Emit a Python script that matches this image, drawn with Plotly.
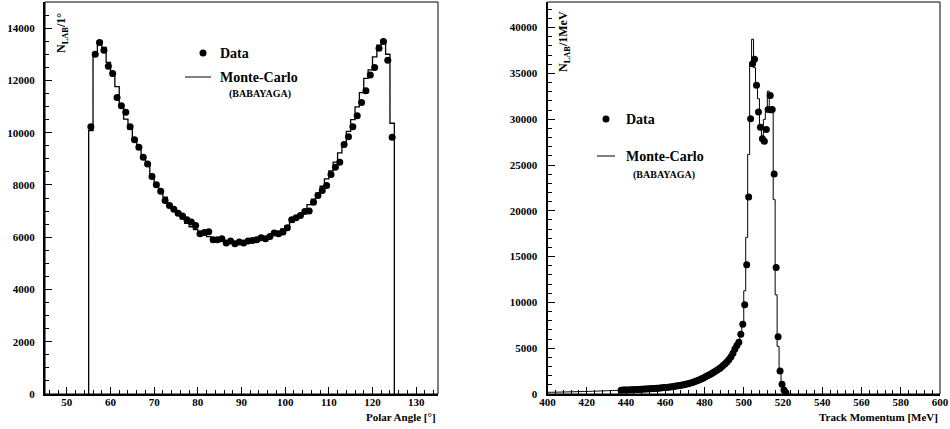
import plotly.graph_objects as go

# ---------------- Left panel: Polar angle ----------------
angle_data_x = [55.5 + i for i in range(70)]
angle_data_y = [10230, 13003, 13448, 13156, 12545, 12265, 11349, 11031, 10777, 10230,
                9733, 9440, 9059, 8805, 8321, 8003, 7761, 7405, 7214, 7074,
                6921, 6807, 6667, 6578, 6451, 6133, 6183, 6209, 5904, 5904,
                5942, 5776, 5853, 5751, 5815, 5776, 5853, 5878, 5904, 5980,
                5942, 6031, 6158, 6133, 6196, 6362, 6667, 6743, 6832, 6985,
                7000, 7341, 7596, 7786, 7978, 8397, 8677, 8868, 9543, 9848,
                10230, 10649, 11158, 11604, 12202, 12494, 13232, 13487, 12774, 9823]
angle_mc_edges = [55 + i for i in range(71)]
angle_mc_y = [10080, 13070, 13510, 13260, 12690, 12180, 11760, 10970, 10520, 10140,
              9780, 9420, 9080, 8760, 8400, 8090, 7800, 7530, 7280, 7060,
              6860, 6690, 6530, 6400, 6290, 6180, 6100, 6020, 5960, 5900,
              5860, 5820, 5800, 5780, 5770, 5780, 5800, 5830, 5870, 5920,
              5980, 6050, 6130, 6220, 6320, 6440, 6570, 6720, 6880, 7050,
              7250, 7460, 7690, 7950, 8230, 8540, 8870, 9230, 9620, 10050,
              10500, 10990, 11530, 12080, 12400, 12900, 13350, 13540, 13000, 10360]

# ---------------- Right panel: Track momentum ----------------
mom_data_x = [437.5 + i for i in range(85)]
mom_data_y = [420, 425, 430, 440, 445, 455, 465, 475, 490, 500,
              510, 520, 535, 550, 560, 575, 590, 605, 620, 640,
              660, 680, 700, 720, 745, 770, 800, 830, 860, 890,
              930, 970, 1010, 1060, 1110, 1170, 1230, 1300, 1380, 1470,
              1560, 1660, 1760, 1870, 1980, 2100, 2220, 2350, 2480, 2620,
              2770, 2930, 3100, 3300, 3520, 3780, 4080, 4450, 4900, 5300,
              5650, 6530, 7625, 9737, 14100, 21500, 30050, 36070, 36540, 33700,
              30780, 29130, 27860, 27600, 28880, 31070, 32600, 31070, 24030, 13820,
              6240, 2520, 1060, 440, 150]
mom_mc_edges = [400 + i for i in range(123)]
mom_mc_y = [180, 185, 190, 195, 200, 205, 210, 215, 220, 225,
            230, 235, 240, 245, 250, 255, 260, 265, 270, 275,
            282, 289, 296, 303, 310, 318, 326, 334, 342, 350,
            358, 366, 374, 382, 390, 398, 406, 414, 422, 430,
            440, 448, 457, 466, 476, 487, 498, 509, 520, 532,
            545, 558, 572, 587, 603, 620, 638, 657, 677, 698,
            720, 744, 769, 796, 825, 856, 889, 925, 963, 1004,
            1048, 1095, 1146, 1200, 1260, 1324, 1392, 1466, 1546, 1632,
            1725, 1825, 1935, 2055, 2185, 2330, 2490, 2665, 2860, 3075,
            3310, 3570, 3860, 4180, 4530, 4920, 5250, 5650, 6400, 7770,
            11270, 17100, 26150, 36180, 38730, 35630, 33700, 32240, 28960, 28150,
            29980, 31260, 33070, 30710, 30700, 21220, 10830, 5200, 2400, 1000,
            350, 100]

W, H = 950, 429
FONT = "Liberation Serif"


def px(x):
    return x / W


def py(y):
    return 1 - y / H


def step(edges, vals):
    xs = [edges[0]] + list(edges[:-1]) + [edges[-1], edges[-1]]
    ys = [0] + list(vals) + [vals[-1], 0]
    return xs, ys


fig = go.Figure()

xs, ys = step(angle_mc_edges, angle_mc_y)
fig.add_trace(go.Scatter(x=xs, y=ys, mode="lines", line=dict(shape="hv", color="black", width=1.3),
                         xaxis="x", yaxis="y", showlegend=False, hoverinfo="skip"))
fig.add_trace(go.Scatter(x=angle_data_x, y=angle_data_y, mode="markers",
                         marker=dict(color="black", size=7), xaxis="x", yaxis="y", showlegend=False))

xs, ys = step(mom_mc_edges, mom_mc_y)
fig.add_trace(go.Scatter(x=xs, y=ys, mode="lines", line=dict(shape="hv", color="black", width=1),
                         xaxis="x2", yaxis="y2", showlegend=False, hoverinfo="skip"))
fig.add_trace(go.Scatter(x=mom_data_x, y=mom_data_y, mode="markers",
                         marker=dict(color="black", size=7), xaxis="x2", yaxis="y2", showlegend=False))

tickfont = dict(family=FONT, size=11, color="black", weight="bold")
ydom = [py(394), py(2)]


def xax(dom, rng, dtick, mdtick, anchor):
    return dict(domain=dom, range=rng, dtick=dtick, tick0=0, ticks="inside", ticklen=7, tickwidth=1,
                tickcolor="black", showline=True, linecolor="black", linewidth=2,
                showgrid=False, zeroline=False, tickfont=tickfont, anchor=anchor,
                ticklabelstandoff=-3, automargin=False,
                minor=dict(ticks="inside", ticklen=4, tickwidth=1, tickcolor="black", dtick=mdtick))


def yax(rng, dtick, mdtick, anchor):
    return dict(domain=ydom, range=rng, dtick=dtick, tick0=0, ticks="inside", ticklen=7, tickwidth=1,
                tickcolor="black", showline=True, linecolor="black", linewidth=2, tickformat="d",
                showgrid=False, zeroline=False, tickfont=tickfont, anchor=anchor,
                ticklabelstandoff=6, automargin=False,
                minor=dict(ticks="inside", ticklen=4, tickwidth=1, tickcolor="black", dtick=mdtick))


fig.update_layout(
    template="none",
    width=W, height=H, margin=dict(l=0, r=0, t=0, b=0, pad=0), autosize=False,
    paper_bgcolor="white", plot_bgcolor="white",
    xaxis=xax([px(45), px(438)], [45, 135], 10, 2, "y"),
    yaxis=yax([0, 15000], 2000, 500, "x"),
    xaxis2=xax([px(547.5), px(940)], [400, 600], 20, 4, "y2"),
    yaxis2=yax([0, 42800], 5000, 1000, "x2"),
)

shapes = []
for xr, yr in (("x domain", "y domain"), ("x2 domain", "y2 domain")):
    shapes.append(dict(type="rect", xref=xr, yref=yr, x0=0, x1=1, y0=0, y1=1,
                       line=dict(color="black", width=1)))

annotations = []
lfont = dict(family=FONT, size=14, color="black", weight="bold")
sfont = dict(family=FONT, size=10, color="black", weight="bold")


def legend(dot_x, dot_y, text_x, line_x0, line_x1, line_y, bab_x, bab_y):
    shapes.append(dict(type="circle", xref="paper", yref="paper",
                       x0=px(dot_x - 3.5), x1=px(dot_x + 3.5), y0=py(dot_y + 3.5), y1=py(dot_y - 3.5),
                       fillcolor="black", line=dict(color="black", width=0)))
    shapes.append(dict(type="line", xref="paper", yref="paper",
                       x0=px(line_x0), x1=px(line_x1), y0=py(line_y), y1=py(line_y),
                       line=dict(color="black", width=1)))
    annotations.append(dict(text="Data", x=px(text_x), y=py(dot_y), xref="paper", yref="paper",
                            xanchor="left", yanchor="middle", showarrow=False, font=lfont))
    annotations.append(dict(text="Monte-Carlo", x=px(text_x), y=py(line_y), xref="paper", yref="paper",
                            xanchor="left", yanchor="middle", showarrow=False, font=lfont))
    annotations.append(dict(text="(BABAYAGA)", x=px(bab_x), y=py(bab_y), xref="paper", yref="paper",
                            xanchor="center", yanchor="middle", showarrow=False, font=sfont))


legend(203, 53, 218, 185, 211, 77, 260, 94)
legend(606, 119, 624, 597, 615, 156, 664, 175)

tfont = dict(family=FONT, size=11, color="black", weight="bold")
annotations.append(dict(text="Polar Angle [°]", x=px(438), y=py(417), xref="paper", yref="paper",
                        xanchor="right", yanchor="middle", showarrow=False, font=tfont))
annotations.append(dict(text="Track Momentum [MeV]", x=px(940), y=py(417), xref="paper", yref="paper",
                        xanchor="right", yanchor="middle", showarrow=False, font=tfont))
yfont = dict(family=FONT, size=12, color="black", weight="bold")
annotations.append(dict(text="N<sub>LAB</sub>/1°", x=px(62), y=py(33), xref="paper", yref="paper",
                        xanchor="center", yanchor="middle", textangle=-90, showarrow=False, font=yfont))
annotations.append(dict(text="N<sub>LAB</sub>/1MeV", x=px(564), y=py(42), xref="paper", yref="paper",
                        xanchor="center", yanchor="middle", textangle=-90, showarrow=False, font=yfont))

fig.update_layout(shapes=shapes, annotations=annotations)
# the page's default 8px body margin would shift the whole figure; remove it
fig.write_html("out.html", config={"displayModeBar": False},
               post_script="document.body.style.margin='0';document.body.style.overflow='hidden';")
